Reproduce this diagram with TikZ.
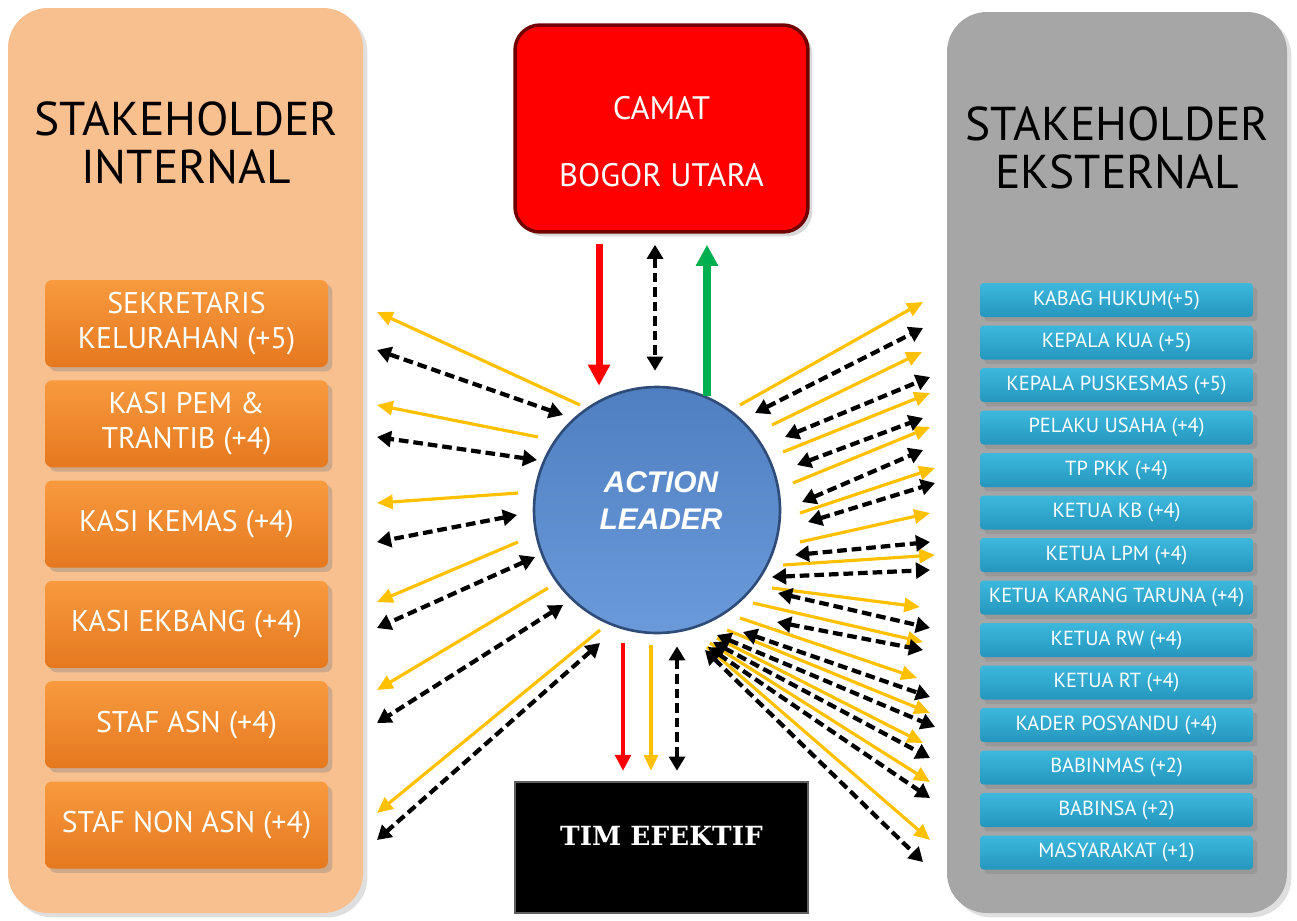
\documentclass[tikz,border=0pt]{standalone}
\usepackage{fontspec}
\setmainfont{PT Sans}
\newfontfamily\leadfont{Liberation Sans}
\newfontfamily\timfont{DejaVu Serif}
\usetikzlibrary{arrows.meta,calc,shadows}

\definecolor{panelin}{HTML}{F9C08F}
\definecolor{panelex}{HTML}{A6A6A6}
\definecolor{boxinTop}{HTML}{F89A3E}
\definecolor{boxinBot}{HTML}{E5781F}
\definecolor{boxexTop}{HTML}{3DB8DD}
\definecolor{boxexBot}{HTML}{2596BE}
\definecolor{leadTop}{HTML}{4F7FC0}
\definecolor{leadBot}{HTML}{6A9ADA}
\definecolor{leadedge}{HTML}{2F4C78}
\definecolor{arrowyel}{HTML}{FFC000}
\definecolor{arrowgrn}{HTML}{00B050}

\tikzset{
  panel/.style={rounded corners=0.8cm, draw=none},
  inbox/.style={rounded corners=4pt, top color=boxinTop, bottom color=boxinBot, text=white,
    minimum width=5.66cm, minimum height=1.74cm, align=center,
    font=\fontsize{17}{20}\selectfont, drop shadow={opacity=0.35}},
  exbox/.style={rounded corners=2pt, top color=boxexTop, bottom color=boxexBot, text=white,
    minimum width=5.46cm, minimum height=0.68cm,
    font=\fontsize{11.6}{12}\selectfont, drop shadow={opacity=0.35}},
  yelarrow/.style={draw=arrowyel, line width=1.8pt, -{Triangle[length=9pt,width=8pt]}},
  blkarrow/.style={draw=black, line width=2.4pt, dash pattern=on 5.5pt off 2.8pt,
    {Triangle[length=8pt,width=9pt]}-{Triangle[length=8pt,width=9pt]}},
  bigarrow/.style={line width=4pt, -{Triangle[length=12pt,width=12pt]}},
}

\begin{document}
\begin{tikzpicture}[x=0.02cm, y=-0.02cm]
  \useasboundingbox (0,0) rectangle (1297,920);

  % panels
  \fill[panel, panelin, drop shadow={opacity=0.25}] (8,8) rectangle (363,913);
  \fill[panel, panelex, drop shadow={opacity=0.25}] (947,12) rectangle (1287,913);
  \node[align=center, font=\fontsize{27}{27}\selectfont] (intitle) at (186,143) {STAKEHOLDER\\INTERNAL};
  \node[align=center, font=\fontsize{27}{27}\selectfont] (extitle) at (1117,148) {STAKEHOLDER\\EKSTERNAL};

  % internal stakeholders
  \foreach \txt [count=\i] in {{SEKRETARIS\\KELURAHAN (+5)}, {KASI PEM \&\\TRANTIB (+4)},
      {KASI KEMAS (+4)}, {KASI EKBANG (+4)}, {STAF ASN (+4)}, {STAF NON ASN (+4)}}
    \node[inbox] (in\i) at (186.5, 323.5+100.3*\i-100.3) {\txt};

  % external stakeholders
  \foreach \txt [count=\i] in {KABAG HUKUM(+5), KEPALA KUA (+5), KEPALA PUSKESMAS (+5),
      PELAKU USAHA (+4), TP PKK (+4), KETUA KB (+4), KETUA LPM (+4),
      KETUA KARANG TARUNA (+4), KETUA RW (+4), KETUA RT (+4), KADER POSYANDU (+4),
      BABINMAS (+2), BABINSA (+2), MASYARAKAT (+1)}
    \node[exbox] (ex\i) at (1116.5, 300+42.5*\i-42.5) {\txt};

  % centre
  \node[rounded corners=0.5cm, fill=red, draw=red!45!black, line width=2pt,
    minimum width=5.86cm, minimum height=4.14cm, drop shadow={opacity=0.3},
    label={[yshift=-0.26cm, text=white, align=center, font=\fontsize{18.5}{38}\selectfont]center:CAMAT\\BOGOR UTARA}]
    (camat) at (661.5,128.5) {};
  \node[circle, top color=leadTop, bottom color=leadBot, draw=leadedge, line width=1.5pt,
    minimum size=4.92cm,
    label={[xshift=0.08cm, yshift=0.18cm, text=white, align=center,
      font=\leadfont\bfseries\itshape\fontsize{17}{21}\selectfont]center:ACTION\\LEADER}]
    (lead) at (657,510) {};
  \node[fill=black, draw=gray!75!black, line width=1.5pt,
    minimum width=5.86cm, minimum height=2.62cm,
    label={[yshift=0.24cm, text=white, font=\timfont\bfseries\fontsize{15}{16}\selectfont]center:TIM EFEKTIF}]
    (tim) at (661.5,847.5) {};

  % camat <-> leader
  \draw[bigarrow, red] ([xshift=-1.25cm,yshift=-6pt]camat.south) -- ([xshift=-1.25cm]camat.south |- lead.north);
  \draw[blkarrow, line width=2pt] ([xshift=-0.13cm,yshift=-0.22cm]camat.south) -- ([xshift=-0.13cm,yshift=0.3cm]camat.south |- lead.north);
  \draw[bigarrow, arrowgrn] ([xshift=0.91cm,yshift=-0.2cm]camat.south |- lead.north) -- ([xshift=0.91cm,yshift=-0.22cm]camat.south);

  % leader -> tim
  \draw[red, line width=1.8pt, -{Triangle[length=9pt,width=9pt]}] ([xshift=-0.77cm,yshift=-0.18cm]tim.north |- lead.south) -- ([xshift=-0.77cm,yshift=0.2cm]tim.north);
  \draw[yelarrow] ([xshift=-0.21cm,yshift=-0.22cm]tim.north |- lead.south) -- ([xshift=-0.21cm,yshift=0.2cm]tim.north);
  \draw[blkarrow, line width=2pt] ([xshift=0.31cm,yshift=-0.24cm]tim.north |- lead.south) -- ([xshift=0.31cm,yshift=0.2cm]tim.north);

  % leader -> internal
  \foreach \ax/\ay/\bx/\by [count=\i] in {580/405/377/312, 538/437/377/405, 518/493/377/503,
      518/542/377/602, 548/588/377/690, 600/630/377/813} {
    \coordinate (yl\i a) at (\ax,\ay);
    \coordinate (yl\i b) at (\bx,\by);
    \draw[yelarrow] (yl\i a) -- (yl\i b);
  }
  \foreach \ax/\ay/\bx/\by [count=\i] in {563/415/377/350, 537/460/377/437, 517/515/377/542,
      535/557/377/628, 563/605/377/723, 600/643/377/840} {
    \coordinate (bl\i a) at (\ax,\ay);
    \coordinate (bl\i b) at (\bx,\by);
    \draw[blkarrow] (bl\i a) -- (bl\i b);
  }

  % leader -> external
  \foreach \ax/\ay/\bx/\by [count=\i] in {740/405/923/302, 772/425/922/352, 783/452/930/393,
      793/483/930/427, 800/513/935/468, 800/542/930/513, 783/565/935/555, 772/588/920/607,
      753/603/923/642, 740/618/917/678, 727/630/930/713, 717/638/923/743, 710/643/930/782,
      707/647/930/840} {
    \coordinate (yr\i a) at (\ax,\ay);
    \coordinate (yr\i b) at (\bx,\by);
    \draw[yelarrow] (yr\i a) -- (yr\i b);
  }
  \foreach \ax/\ay/\bx/\by [count=\i] in {755/413/923/328, 785/437/930/377, 797/465/923/418,
      802/502/923/450, 808/522/935/483, 795/555/930/542, 772/577/930/570, 778/593/930/628,
      777/622/923/650, 743/632/930/697, 717/635/935/727, 713/642/930/758, 708/647/930/798,
      705/650/923/862} {
    \coordinate (br\i a) at (\ax,\ay);
    \coordinate (br\i b) at (\bx,\by);
    \draw[blkarrow] (br\i a) -- (br\i b);
  }
\end{tikzpicture}
\end{document}
